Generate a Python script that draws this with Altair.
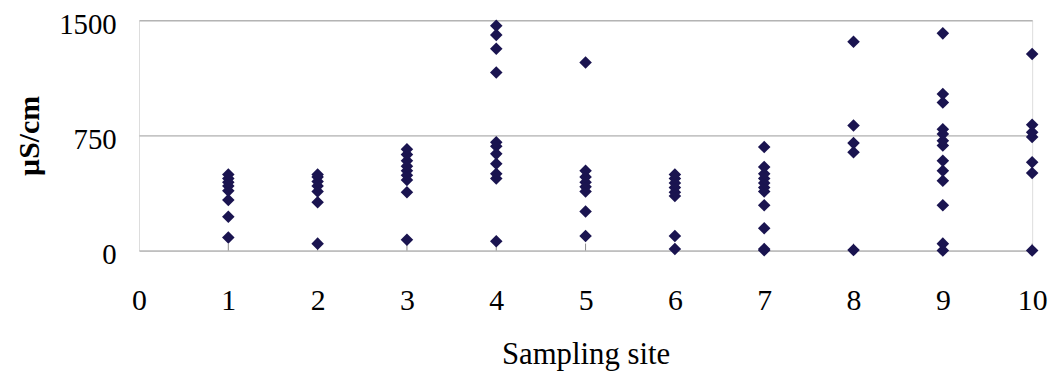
import altair as alt
import pandas as pd

# Conductivity readings (µS/cm) read from each sampling site
site_1 = [85, 220, 330, 390, 420, 445, 470, 495]
site_2 = [45, 315, 385, 420, 450, 480, 495]
site_3 = [70, 380, 460, 490, 520, 550, 585, 625, 660]
site_4 = [60, 470, 500, 565, 630, 680, 705, 1160, 1315, 1405, 1465]
site_5 = [95, 255, 385, 415, 445, 480, 520, 1225]
site_6 = [10, 95, 355, 380, 410, 440, 470, 495]
site_7 = [2, 10, 145, 295, 385, 410, 440, 470, 500, 545, 675]
site_8 = [3, 640, 700, 815, 1360]
site_9 = [0, 45, 295, 455, 520, 585, 685, 715, 760, 790, 965, 1020, 1415]
site_10 = [0, 505, 575, 740, 770, 820, 1280]

sites = [1, 2, 3, 4, 5, 6, 7, 8, 9, 10]
site_values = [site_1, site_2, site_3, site_4, site_5,
               site_6, site_7, site_8, site_9, site_10]

x_ticks = [0, 1, 2, 3, 4, 5, 6, 7, 8, 9, 10]
y_ticks = [0, 750, 1500]

rows = []
for s, vals in zip(sites, site_values):
    for v in vals:
        rows.append({"site": s, "value": v})
df = pd.DataFrame(rows)
ticks_df = pd.DataFrame({"site": sites})

FONT = "Liberation Serif"
W, H = 900, 232

x_scale = alt.Scale(domain=[0, 10], nice=False, zero=False)
y_scale = alt.Scale(domain=[0, 1500], nice=False)

points = alt.Chart(df).mark_point(
    shape="diamond", filled=True, size=160, color="#1a1450", opacity=1
).encode(
    x=alt.X("site:Q", scale=x_scale,
            axis=alt.Axis(values=x_ticks, title="Sampling site", grid=False,
                          ticks=False, domain=False, labelFlush=False,
                          labelFont=FONT, labelFontSize=30, labelColor="#000",
                          labelPadding=35, titleFont=FONT, titleFontSize=31,
                          titleFontWeight="normal", titleColor="#000",
                          titlePadding=25, format="d")),
    y=alt.Y("value:Q", scale=y_scale,
            axis=alt.Axis(values=y_ticks, title="µS/cm", grid=True,
                          gridColor="#9a9a9a", gridWidth=1, ticks=False,
                          domain=False, labelFont=FONT, labelFontSize=29,
                          labelColor="#000", labelPadding=23, labelOffset=4,
                          titleFont=FONT, titleFontSize=30,
                          titleFontWeight="bold", titleColor="#000",
                          titlePadding=14, format="d")),
)

inner_ticks = alt.Chart(ticks_df).mark_rule(color="#8a8a8a", strokeWidth=1).encode(
    x=alt.X("site:Q", scale=x_scale),
    y=alt.value(H - 7),
    y2=alt.value(H),
)

chart = alt.layer(inner_ticks, points).properties(
    width=W, height=H,
    autosize=alt.AutoSizeParams(type="none"),
    padding={"left": 132, "top": 11, "right": 20, "bottom": 126},
).configure_view(
    stroke="#8a8a8a", strokeWidth=1.5
).configure(background="white")

chart.save("out.html", embed_options={"renderer": "svg", "actions": False})
